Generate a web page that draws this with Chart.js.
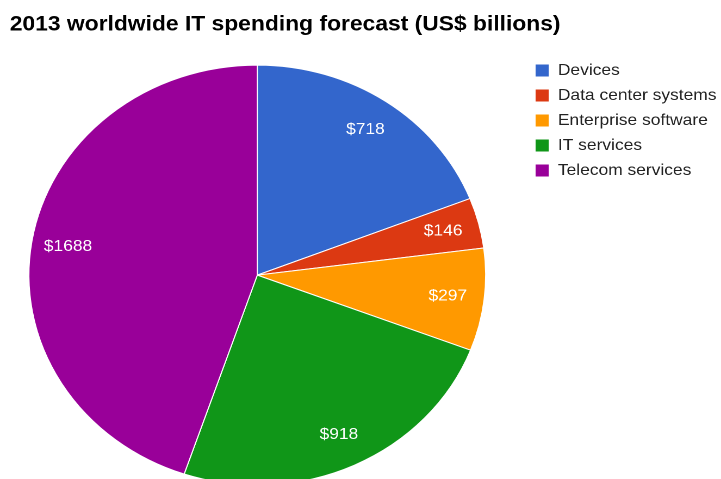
<!DOCTYPE html>
<html>
<head>
<meta charset="utf-8">
<script src="https://cdn.jsdelivr.net/npm/chart.js@4"></script>
<style>
  html, body { margin: 0; padding: 0; background: #fff; overflow: hidden; }
  /* the original picture is stretched a little sideways */
  #wrap { width: 663px; height: 497px; transform: scaleX(1.0875); transform-origin: 0 0; }
</style>
</head>
<body>
<div id="wrap"><canvas id="pie"></canvas></div>
<script>
const categories = ['Devices', 'Data center systems', 'Enterprise software', 'IT services', 'Telecom services'];
const spending = [718, 146, 297, 918, 1688];
const sliceColors = ['#3366cc', '#dc3912', '#ff9900', '#109618', '#990099'];

const FONT = '"Liberation Sans", Arial, sans-serif';

// value labels inside the slices
const sliceLabels = {
    id: 'sliceLabels',
    afterDatasetsDraw(chart) {
        const ctx = chart.ctx;
        const meta = chart.getDatasetMeta(0);
        ctx.save();
        ctx.font = '16px ' + FONT;
        ctx.fillStyle = '#fff';
        ctx.textAlign = 'center';
        ctx.textBaseline = 'middle';
        meta.data.forEach((arc, i) => {
            const mid = (arc.startAngle + arc.endAngle) / 2;
            const r = arc.outerRadius * 0.84;
            ctx.fillText('$' + spending[i], arc.x + Math.cos(mid) * r, arc.y + Math.sin(mid) * r);
        });
        ctx.restore();
    }
};

// legend sits further right and lower than chart.js puts it
const legendNudge = {
    id: 'legendNudge',
    afterLayout(chart) {
        const lg = chart.legend;
        const dx = 483 - lg.left;
        const dy = 53.5 - lg.top;
        lg.left += dx;
        lg.right += dx;
        lg.top += dy;
        lg.bottom += dy;
    }
};

new Chart(document.getElementById('pie').getContext('2d'), {
    type: 'pie',
    data: {
        labels: categories,
        datasets: [{
            data: spending,
            backgroundColor: sliceColors,
            borderColor: '#fff',
            borderWidth: 1,
            radius: 210
        }]
    },
    options: {
        responsive: true,
        maintainAspectRatio: false,
        animation: false,
        devicePixelRatio: 2,
        layout: { padding: { left: 9, right: 13, top: 0, bottom: 0 } },
        plugins: {
            title: {
                display: true,
                text: '2013 worldwide IT spending forecast (US$ billions)',
                align: 'start',
                color: '#000',
                font: { family: FONT, size: 21, weight: 'bold' },
                padding: { top: 12, bottom: 16 }
            },
            legend: {
                position: 'right',
                align: 'start',
                labels: {
                    boxWidth: 13,
                    boxHeight: 13,
                    padding: 9,
                    color: '#222',
                    font: { family: FONT, size: 16 }
                }
            },
            tooltip: { enabled: false }
        }
    },
    plugins: [sliceLabels, legendNudge]
});
</script>
</body>
</html>
